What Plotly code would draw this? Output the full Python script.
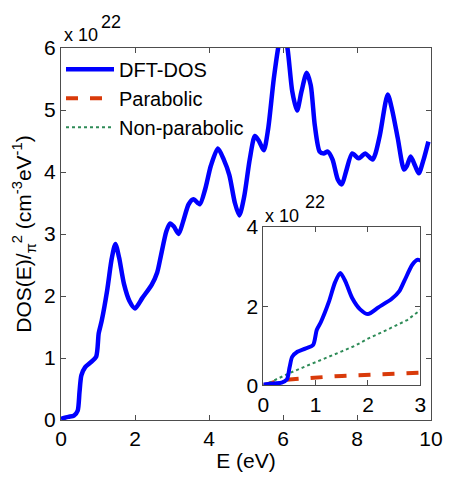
import plotly.graph_objects as go

# DFT density of states (units of 1e22 cm^-3 eV^-1), divided by pi^2
energy = [0.0, 0.2, 0.35, 0.45, 0.5, 0.55, 0.65, 0.8, 0.95, 1.02, 1.1, 1.25, 1.37,
          1.47, 1.57, 1.7, 1.85, 2.0, 2.2, 2.45, 2.6, 2.7, 2.85, 2.95, 3.05, 3.18,
          3.3, 3.45, 3.58, 3.75, 3.9, 4.05, 4.24, 4.4, 4.55, 4.7, 4.82, 4.95, 5.1,
          5.24, 5.35, 5.48, 5.6, 5.75, 5.9, 6.0, 6.12, 6.25, 6.38, 6.5, 6.64, 6.75,
          6.86, 6.99, 7.1, 7.21, 7.34, 7.48, 7.59, 7.7, 7.87, 8.04, 8.12, 8.22,
          8.42, 8.5, 8.62, 8.83, 8.95, 9.1, 9.27, 9.35, 9.45, 9.57, 9.67, 9.8, 9.93]
dos = [0.02, 0.05, 0.07, 0.15, 0.45, 0.72, 0.85, 0.93, 1.02, 1.4, 1.6, 2.1, 2.6,
       2.84, 2.62, 2.2, 1.92, 1.8, 1.97, 2.18, 2.38, 2.65, 3.05, 3.17, 3.12, 3.0,
       3.2, 3.48, 3.56, 3.48, 3.73, 4.1, 4.38, 4.2, 3.95, 3.5, 3.3, 3.6, 4.2,
       4.58, 4.5, 4.35, 4.7, 5.5, 6.1, 6.3, 6.0, 5.3, 4.99, 5.3, 5.6, 5.4,
       4.75, 4.33, 4.3, 4.33, 4.2, 3.88, 3.8, 4.0, 4.3, 4.22, 4.25, 4.3,
       4.2, 4.3, 4.6, 5.25, 5.0, 4.55, 4.04, 4.1, 4.25, 4.1, 3.98, 4.2, 4.49]

# Model curves shown in the inset
model_energy = [0.0, 0.25, 0.5, 0.75, 1.0, 1.25, 1.5, 1.75, 2.0, 2.25, 2.5, 2.75, 3.0]
parabolic = [0.0, 0.1, 0.15, 0.18, 0.2, 0.22, 0.24, 0.255, 0.27, 0.285, 0.295, 0.31, 0.32]
nonparabolic = [0.0, 0.16, 0.31, 0.45, 0.58, 0.72, 0.86, 1.0, 1.18, 1.33, 1.48, 1.65, 1.9]

main_xticks = [0, 2, 4, 6, 8, 10]
main_yticks = [0, 1, 2, 3, 4, 5, 6]
inset_xticks = [0, 1, 2, 3]
inset_yticks = [0, 2, 4]

BLUE = "#0000ff"
RED = "#d93a0a"
GREEN = "#2e8b57"
FONT = "Liberation Sans, Arial, sans-serif"
AXCOL = "#4d4d4d"

fig = go.Figure()

fig.add_trace(go.Scatter(x=energy, y=dos, mode="lines", name="DFT-DOS",
                         line=dict(color=BLUE, width=4.5, shape="spline", smoothing=0.7),
                         xaxis="x", yaxis="y"))
fig.add_trace(go.Scatter(x=model_energy, y=parabolic, mode="lines", name="Parabolic",
                         line=dict(color=RED, width=4, dash="dash"), xaxis="x2", yaxis="y2"))
fig.add_trace(go.Scatter(x=model_energy, y=nonparabolic, mode="lines", name="Non-parabolic",
                         line=dict(color=GREEN, width=2, dash="dot"), xaxis="x2", yaxis="y2"))
fig.add_trace(go.Scatter(x=energy, y=dos, mode="lines", showlegend=False,
                         line=dict(color=BLUE, width=4, shape="spline", smoothing=0.7),
                         xaxis="x2", yaxis="y2"))

axis_common = dict(showline=True, linecolor=AXCOL, linewidth=1.2, mirror="ticks",
                   ticks="inside", ticklen=5, tickcolor=AXCOL, showgrid=False,
                   zeroline=False, tickfont=dict(size=21, color="black", family=FONT))

fig.update_layout(
    width=455, height=481,
    margin=dict(l=61, r=14, t=48, b=54),
    paper_bgcolor="white", plot_bgcolor="white",
    font=dict(family=FONT, color="black"),
    xaxis=dict(domain=[0, 1], range=[0, 10], tickvals=main_xticks,
               title=dict(text="E (eV)", font=dict(size=21), standoff=4), **axis_common),
    yaxis=dict(domain=[0, 1], range=[0, 6], tickvals=main_yticks,
               title=dict(text="DOS(E)/<sub>π</sub><sup>2</sup> (cm<sup>-3</sup>eV<sup>-1</sup>)",
                          font=dict(size=21), standoff=6), **axis_common),
    xaxis2=dict(domain=[0.547, 0.971], anchor="y2", range=[0, 3], tickvals=inset_xticks,
                **axis_common),
    yaxis2=dict(domain=[0.093, 0.519], anchor="x2", range=[0, 4], tickvals=inset_yticks,
                **axis_common),
    legend=dict(x=0.0, y=0.995, xanchor="left", yanchor="top", bgcolor="rgba(0,0,0,0)",
                font=dict(size=20, family=FONT), tracegroupgap=0, itemwidth=48),
    showlegend=True,
)

# Axis multiplier labels ("x 10" with a raised exponent), main axes and inset
exp_font = dict(size=18, family=FONT, color="black")
for base_x, base_y, exp_x, exp_y in [(0.003, 1.004, 0.102, 1.037),
                                     (0.545, 0.515, 0.655, 0.555)]:
    fig.add_annotation(text="x 10", xref="paper", yref="paper", x=base_x, y=base_y,
                       xanchor="left", yanchor="bottom", showarrow=False, font=exp_font)
    fig.add_annotation(text="22", xref="paper", yref="paper", x=exp_x, y=exp_y,
                       xanchor="left", yanchor="bottom", showarrow=False, font=exp_font)

fig.write_html("out.html")
